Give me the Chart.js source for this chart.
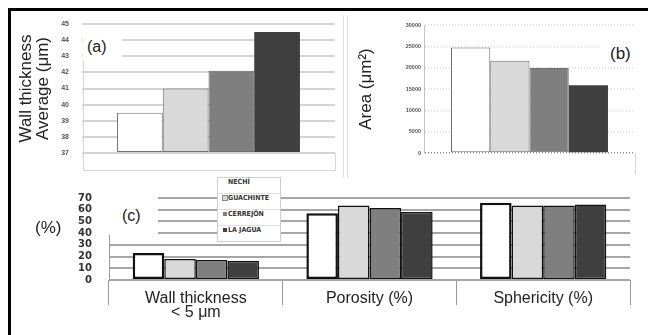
<!DOCTYPE html>
<html>
<head>
<meta charset="utf-8">
<script src="https://cdn.jsdelivr.net/npm/chart.js@4.4.1/dist/chart.umd.min.js"></script>
<style>
  html, body { margin: 0; padding: 0; background: #fff; }
  #wrap { position: relative; width: 648px; height: 335px; overflow: hidden; font-family: 'Liberation Sans', Arial, sans-serif; }
  canvas { position: absolute; }
  .box { position: absolute; background: #fff; color: #222; white-space: nowrap; }
  .ln { position: absolute; background: #d6d6d6; }
  #legendC { position: absolute; left: 217px; top: 177px; width: 62px; background: #fff; border: 1px solid #cfcfcf; }
  #legendC div { height: 15px; line-height: 15px; border-top: 1px solid #dedede; font: bold 7px 'DejaVu Sans Condensed', 'DejaVu Sans', sans-serif; color: #333; padding-left: 5px; }
  #legendC div:first-child { border-top: none; }
  #legendC span { display: inline-block; width: 4px; height: 4px; margin-right: 1px; vertical-align: 0; }
</style>
</head>
<body>
<div id="wrap">
  <canvas id="chartA" width="345" height="172" style="left:0;top:0"></canvas>
  <canvas id="chartB" width="303" height="175" style="left:345px;top:0"></canvas>
  <canvas id="chartC" width="648" height="160" style="left:0;top:175px"></canvas>

  <!-- panel frames -->
  <div class="ln" style="left:83px;top:60px;width:1px;height:110px"></div>
  <div class="ln" style="left:83px;top:170px;width:253px;height:1px"></div>
  <div class="ln" style="left:335px;top:153px;width:1px;height:17px"></div>
  <div class="ln" style="left:343px;top:15px;width:1px;height:163px;background:#e0e0e0"></div>
  <div class="ln" style="left:347px;top:15px;width:1px;height:163px;background:#e0e0e0"></div>
  <div class="ln" style="left:635px;top:153px;width:1px;height:22px"></div>

  <!-- panel labels -->
  <div class="box" style="left:83px;top:34px;width:39px;height:26px;line-height:26px;font-size:16px;padding-left:4px;box-sizing:border-box">(a)</div>
  <div class="box" style="left:602px;top:42px;width:34px;height:24px;line-height:24px;font-size:17px;padding-left:8px;box-sizing:border-box">(b)</div>
  <div class="box" style="left:108px;top:197px;width:50px;height:38px;line-height:38px;font-size:16px;padding-left:14px;box-sizing:border-box">(c)</div>
  <div class="box" style="left:35px;top:218px;font-size:17px;line-height:20px;background:none">(%)</div>

  <div id="legendC"></div>

  <!-- outer frame -->
  <div style="position:absolute;left:8px;top:8px;width:640px;height:3px;background:#000"></div>
  <div style="position:absolute;left:8px;top:8px;width:3px;height:327px;background:#000"></div>
</div>

<script>
// series (sites)
const seriesNames = ['NECHÍ', 'GUACHINTE', 'CERREJÓN', 'LA JAGUA'];
const barColors = ['#ffffff', '#d9d9d9', '#7f7f7f', '#3f3f3f'];

// (a) wall thickness average (µm)
const wallAvg = [39.5, 41.0, 42.1, 44.5];
// (b) area (µm2)
const areaVals = [24700, 21600, 19900, 15900];

// (c) percentages
const propCategories = [['Wall thickness', '< 5 μm'], 'Porosity (%)', 'Sphericity (%)'];
const propNechi = [23, 57, 66];
const propGuachinte = [18, 63.5, 63.5];
const propCerrejon = [17, 61.5, 63.5];
const propJagua = [16.5, 58, 64.5];
const propSeries = [propNechi, propGuachinte, propCerrejon, propJagua];

Chart.defaults.font.family = "'Liberation Sans', Arial, sans-serif";

const common = {
  responsive: false,
  animation: false,
  devicePixelRatio: 1,
  events: [],
  plugins: { legend: { display: false }, tooltip: { enabled: false } }
};

//(a)
new Chart(document.getElementById('chartA'), {
  type: 'bar',
  data: {
    labels: [''],
    datasets: seriesNames.map((n, i) => ({
      label: n,
      data: [wallAvg[i]],
      base: 37,
      backgroundColor: barColors[i],
      borderColor: '#6e6e6e',
      borderWidth: i === 3 ? 0 : 1,
      borderSkipped: false,
      clip: false
    }))
  },
  options: Object.assign({}, common, {
    layout: { padding: { top: 24, right: 10, bottom: 19, left: 0 } },
    datasets: { bar: { categoryPercentage: 0.723, barPercentage: 1 } },
    scales: {
      x: { display: false },
      y: {
        min: 37, max: 45,
        afterFit: s => { s.width = 82; },
        ticks: { stepSize: 1, autoSkip: false, padding: 13, font: { size: 7, weight: 'bold' }, color: '#555' },
        grid: { color: '#d4d4d4', lineWidth: 2, drawTicks: false },
        border: { display: false },
        title: {
          display: true,
          text: ['Wall thickness', 'Average (μm)'],
          font: { size: 17, lineHeight: 1 },
          color: '#222',
          padding: { top: 17.5, bottom: 0 }
        }
      }
    }
  })
});

//(b)
new Chart(document.getElementById('chartB'), {
  type: 'bar',
  data: {
    labels: [''],
    datasets: seriesNames.map((n, i) => ({
      label: n,
      data: [areaVals[i]],
      backgroundColor: barColors[i],
      borderColor: '#6e6e6e',
      borderWidth: i === 3 ? 0 : 1,
      borderSkipped: false,
      clip: false
    }))
  },
  options: Object.assign({}, common, {
    layout: { padding: { top: 25, right: 13, bottom: 22, left: 0 } },
    datasets: { bar: { categoryPercentage: 0.744, barPercentage: 1 } },
    scales: {
      x: { display: false },
      y: {
        min: 0, max: 30000,
        afterFit: s => { s.width = 79; },
        ticks: { stepSize: 5000, autoSkip: false, padding: 3, font: { size: 5.5, weight: 'bold' }, color: '#555', callback: v => String(v) },
        grid: { color: c => (c.tick && c.tick.value === 0) ? '#8a8a8a' : '#d9d9d9', lineWidth: 1.5, drawTicks: false },
        border: { display: true, color: '#c4c4c4', dash: [1, 2] },
        title: {
          display: true,
          text: 'Area (μm²)',
          font: { size: 17, lineHeight: 1 },
          color: '#222',
          padding: { top: 13, bottom: 0 }
        }
      }
    }
  })
});

//(c)
new Chart(document.getElementById('chartC'), {
  type: 'bar',
  data: {
    labels: propCategories,
    datasets: seriesNames.map((n, i) => ({
      label: n,
      data: propSeries[i],
      backgroundColor: barColors[i],
      borderColor: '#111',
      borderWidth: i === 0 ? 2.5 : 1.5,
      borderSkipped: false,
      clip: false
    }))
  },
  options: Object.assign({}, common, {
    layout: { padding: { top: 17, right: 18, bottom: 0, left: 0 } },
    datasets: { bar: { categoryPercentage: 0.727, barPercentage: 1 } },
    scales: {
      x: {
        afterFit: s => { s.height = 55; },
        grid: { offset: true, drawOnChartArea: false, drawTicks: true, tickLength: 25, color: '#999', lineWidth: 1 },
        border: { display: false },
        ticks: { padding: -14, font: { size: 16, lineHeight: 0.9 }, color: '#222', maxRotation: 0, autoSkip: false }
      },
      y: {
        min: 0, max: 70,
        afterFit: s => { s.width = 109; },
        ticks: { stepSize: 10, autoSkip: false, padding: 17, font: { size: 10, weight: 'bold', family: "'DejaVu Sans', sans-serif" }, color: '#333' },
        grid: { color: '#a6a6a6', lineWidth: 2, drawTicks: false },
        border: { display: true, color: '#999', width: 1 }
      }
    }
  })
});

// legend for (c)
const leg = document.getElementById('legendC');
seriesNames.forEach((n, i) => {
  const row = document.createElement('div');
  const sw = document.createElement('span');
  sw.style.background = barColors[i];
  if (i === 1) sw.style.outline = '1px solid #888';
  row.appendChild(sw);
  row.appendChild(document.createTextNode(n));
  leg.appendChild(row);
});
</script>
</body>
</html>
